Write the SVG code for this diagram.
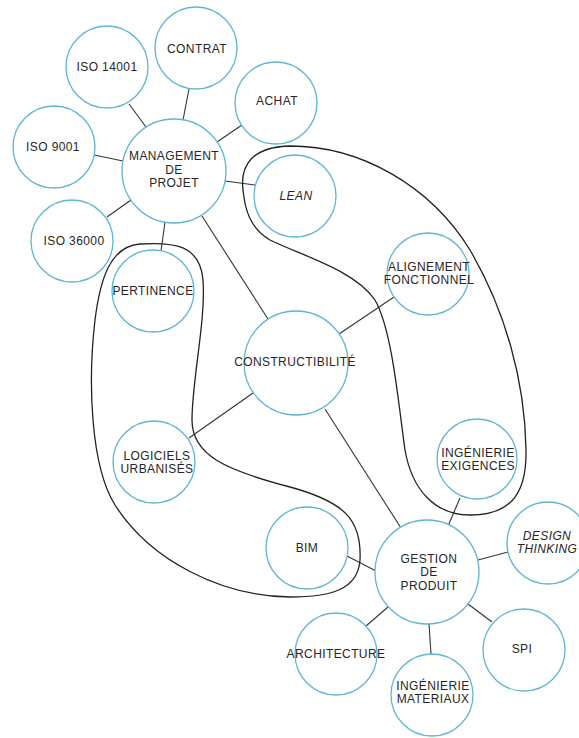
<svg xmlns="http://www.w3.org/2000/svg" width="579" height="738" viewBox="0 0 579 738">
<style>
.bg{fill:#ffffff}
.node circle{fill:#ffffff;stroke:#5fb6cf;stroke-width:1.3}
.node text{font-family:"Liberation Sans",Arial,sans-serif;font-size:12px;letter-spacing:0.4px;fill:#262626;text-anchor:middle}
.node text.it{font-style:italic}
#connectors line{stroke:#333333;stroke-width:1.1;fill:none}
#groups path{stroke:#222222;stroke-width:1.3;fill:none}
</style>
<rect class="bg" x="0" y="0" width="579" height="738"/>
<g id="connectors">
<line x1="146" y1="127" x2="129" y2="104"/>
<line x1="183" y1="120" x2="189" y2="89"/>
<line x1="217" y1="142" x2="242" y2="125"/>
<line x1="123" y1="161" x2="94" y2="155"/>
<line x1="131" y1="200" x2="107" y2="217"/>
<line x1="225" y1="181" x2="255" y2="185"/>
<line x1="165" y1="222" x2="161" y2="251"/>
<line x1="202" y1="216" x2="268" y2="319"/>
<line x1="339" y1="334" x2="394" y2="297"/>
<line x1="253" y1="393" x2="189" y2="438"/>
<line x1="325" y1="409" x2="401" y2="528"/>
<line x1="448" y1="526" x2="460" y2="498"/>
<line x1="478" y1="560" x2="508" y2="552"/>
<line x1="468" y1="604" x2="492" y2="622"/>
<line x1="429" y1="624" x2="431" y2="654"/>
<line x1="388" y1="607" x2="366" y2="626"/>
<line x1="376" y1="571" x2="347" y2="556"/>
</g>
<g id="groups">
<path d="M 243,190 C 240,165 252,147 290,146 C 360,146 430,185 470,250 C 505,310 525,380 526,450 C 527,500 505,515 470,515 C 435,515 412,490 405,450 C 398,400 392,330 375,300 C 355,270 300,255 270,240 C 250,228 245,210 243,190 Z"/>
<path d="M 140,244 C 175,242 200,245 203,280 C 206,320 192,380 192,420 C 192,455 225,470 290,487 C 345,502 362,520 360,560 C 358,590 330,597 290,597 C 220,596 150,560 115,505 C 90,465 88,380 95,320 C 100,280 110,246 140,244 Z"/>
</g>
<g id="iso14001" class="node"><circle cx="107" cy="67" r="41"/><text x="107" y="71">ISO 14001</text></g>
<g id="contrat" class="node"><circle cx="196" cy="48" r="41"/><text x="197" y="53">CONTRAT</text></g>
<g id="achat" class="node"><circle cx="276" cy="103" r="41"/><text x="277" y="105">ACHAT</text></g>
<g id="iso9001" class="node"><circle cx="54" cy="147" r="41"/><text x="53" y="151">ISO 9001</text></g>
<g id="management" class="node"><circle cx="174" cy="171" r="52"/><text x="174" y="160">MANAGEMENT</text><text x="174" y="173.5">DE</text><text x="174" y="187">PROJET</text></g>
<g id="iso36000" class="node"><circle cx="72" cy="241" r="41"/><text x="74" y="245">ISO 36000</text></g>
<g id="lean" class="node"><circle cx="295" cy="196" r="41"/><text class="it" x="296" y="200">LEAN</text></g>
<g id="pertinence" class="node"><circle cx="153" cy="291" r="41"/><text x="153" y="295">PERTINENCE</text></g>
<g id="alignement" class="node"><circle cx="428" cy="274" r="41"/><text x="429" y="270.5">ALIGNEMENT</text><text x="429" y="284">FONCTIONNEL</text></g>
<g id="constructibilite" class="node"><circle cx="296" cy="363" r="52"/><text x="295" y="366">CONSTRUCTIBILITÉ</text></g>
<g id="exigences" class="node"><circle cx="477" cy="459" r="40"/><text x="478" y="456.5">INGÉNIERIE</text><text x="478" y="470">EXIGENCES</text></g>
<g id="logiciels" class="node"><circle cx="154" cy="462" r="41"/><text x="157" y="459.5">LOGICIELS</text><text x="157" y="473">URBANISÉS</text></g>
<g id="bim" class="node"><circle cx="307" cy="548" r="41"/><text x="307" y="552">BIM</text></g>
<g id="gestion" class="node"><circle cx="427" cy="572" r="52"/><text x="429" y="562.5">GESTION</text><text x="429" y="576">DE</text><text x="429" y="589.5">PRODUIT</text></g>
<g id="design" class="node"><circle cx="548" cy="543" r="41"/><text class="it" x="547" y="539.5">DESIGN</text><text class="it" x="547" y="553">THINKING</text></g>
<g id="spi" class="node"><circle cx="524" cy="650" r="41"/><text x="522" y="653">SPI</text></g>
<g id="architecture" class="node"><circle cx="336" cy="654" r="41"/><text x="336" y="658">ARCHITECTURE</text></g>
<g id="materiaux" class="node"><circle cx="432" cy="695" r="41"/><text x="433" y="689.5">INGÉNIERIE</text><text x="433" y="703">MATERIAUX</text></g>
</svg>
